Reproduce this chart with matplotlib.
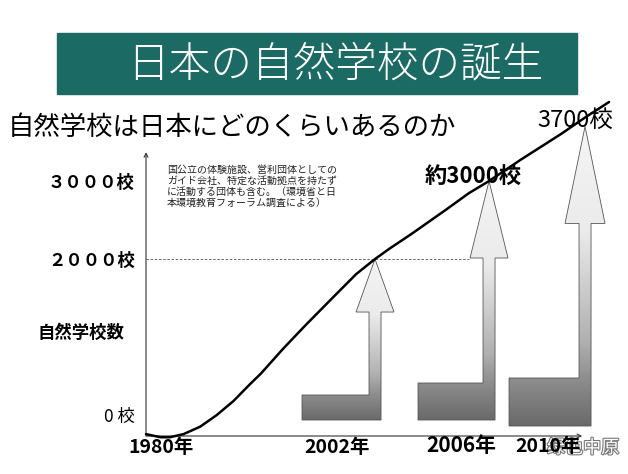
"""Slide: 日本の自然学校の誕生 (schematic growth curve of nature schools)."""

import matplotlib
matplotlib.use("Agg")
import matplotlib.pyplot as plt
import matplotlib.patheffects as pe
import numpy as np
from matplotlib.colors import LinearSegmentedColormap
from matplotlib.patches import Polygon, Rectangle

plt.rcParams["font.family"] = ["Noto Sans CJK JP", "DejaVu Sans"]

# ---- data ----
title = "日本の自然学校の誕生"
subtitle = "自然学校は日本にどのくらいあるのか"
note_lines = [
    "国公立の体験施設、営利団体としての",
    "ガイド会社、特定な活動拠点を持たず",
    "に活動する団体も含む。（環境省と日",
    "本環境教育フォーラム調査による）",
]
curve_year = [1980, 1981.4, 1982.3, 1983.6, 1985.2, 1986.8, 1988.4, 1990, 1991,
              1993.2, 1995.4, 1998, 2000.2, 2002, 2002.5, 2003.3, 2004.5,
              2005.3, 2006, 2007.3, 2009, 2010, 2011]
curve_count = [-245, -285, -285, -245, -150, 0, 179, 397, 526, 854, 1162, 1513,
               1808, 2000, 2131, 2327, 2635, 2846, 3000, 3269, 3603, 3814, 4013]
arrow_years = [2002, 2006, 2010]
arrow_counts = [2000, 3000, 3700]
year_ticks = [1980, 2002, 2006, 2010]
year_labels = ["1980年", "2002年", "2006年", "2010年"]
y_ticks = [0, 2000, 3000]
y_tick_labels = ["0 校", "２０００校", "３０００校"]
callout_3000 = "約3000校"
callout_3700 = "3700校"
y_title = "自然学校数"
watermark = "绿色中原"

# ---- figure / overlay in slide pixels ----
W, H = 628, 474
fig = plt.figure(figsize=(W / 100, H / 100), dpi=100)
ov = fig.add_axes([0, 0, 1, 1])
ov.set_xlim(0, W)
ov.set_ylim(H, 0)
ov.axis("off")

# title banner
ov.add_patch(Rectangle((57, 33), 520, 61, color="#1b6a64", zorder=1))
ov.text(127, 65, title, color="white", fontsize=30, fontweight="light",
        va="center", ha="left", zorder=2)
ov.text(8, 127, subtitle, color="black", fontsize=19, va="center", ha="left")

# ---- main chart axes (schematic, non-linear year axis) ----
anchor_year = [1900, 1980, 2002, 2006, 2010, 2100]
anchor_pos = [146 - 80 * 10.41, 146, 375, 489, 585, 585 + 90 * 24]


def fwd(x):
    return np.interp(x, anchor_year, anchor_pos)


def inv(p):
    return np.interp(p, anchor_pos, anchor_year)


ax = fig.add_axes([146 / W, 38 / H, 482 / W, 436 / H])
ax.patch.set_alpha(0)
ax.set_xscale("function", functions=(fwd, inv))
ax.set_xlim(1980, 2011.79)
ax.set_ylim(-269, 5321)
for s in ax.spines.values():
    s.set_visible(False)
ax.set_xticks([])
ax.set_yticks(y_ticks)
ax.set_yticklabels(y_tick_labels)
ax.tick_params(axis="y", length=0, pad=8, labelsize=12.5)
for lab in ax.get_yticklabels():
    lab.set_fontweight("normal" if lab.get_text().startswith("0") else "bold")

# axis lines with small arrow heads
ax.annotate("", xy=(0, 0.651), xytext=(0, 0), xycoords="axes fraction",
            arrowprops=dict(arrowstyle="->", lw=0.8, color="#333333",
                            shrinkA=0, shrinkB=0, mutation_scale=7))
ax.annotate("", xy=(0.905, 0), xytext=(0, 0), xycoords="axes fraction",
            arrowprops=dict(arrowstyle="->", lw=0.8, color="#333333",
                            shrinkA=0, shrinkB=0, mutation_scale=7))

ax.hlines(2000, 1980, 2005.3, colors="#555555", linestyles=(0, (3, 2)), lw=0.6)
ax.plot(curve_year, curve_count, color="black", lw=1.8, clip_on=False,
        solid_capstyle="round", solid_joinstyle="round", zorder=5)

ax.text(-0.135, 0.236, y_title, transform=ax.transAxes, fontsize=12.5,
        fontweight="bold", ha="center", va="center")

label_off = [(11.2, -8.6, 14), (-27.7, -8.6, 14), (-20.2, -6.5, 15), (-26.6, -7.9, 14)]
for yr, lab, (dx, dy, fs) in zip(year_ticks, year_labels, label_off):
    ax.annotate(lab, xy=(yr, 0), xycoords=("data", "axes fraction"),
                xytext=(dx, dy), textcoords="offset points", ha="center",
                va="center", fontsize=fs, fontweight="bold", annotation_clip=False)

# ---- gradient block arrows ----
cmap = LinearSegmentedColormap.from_list(
    "arr", [(0, "#f4f4f4"), (0.35, "#ebebeb"), (0.72, "#b0b0b0"),
            (0.85, "#8c8c8c"), (1, "#6a6a6a")])
grad = np.linspace(0, 1, 256).reshape(-1, 1)
head_half = [19, 19, 20]
head_len = [53, 77, 97]
base_left_off = [-73, -71, -76]
base_top = [395, 383, 378]
base_bottom = [420, 420, 426]
sw = 6

for i, (yr, cnt) in enumerate(zip(arrow_years, arrow_counts)):
    tx, ty = ov.transData.inverted().transform(ax.transData.transform((yr, cnt)))
    hb = ty + head_len[i]
    hw = head_half[i]
    bl = tx + base_left_off[i]
    bb, bt = base_bottom[i], base_top[i]
    verts = [(tx, ty), (tx + hw, hb), (tx + sw, hb), (tx + sw, bb), (bl, bb),
             (bl, bt), (tx - sw, bt), (tx - sw, hb), (tx - hw, hb)]
    poly = Polygon(verts, closed=True, facecolor="none", edgecolor="#555555",
                   lw=0.6, zorder=3)
    ov.add_patch(poly)
    im = ov.imshow(grad, cmap=cmap, aspect="auto", origin="upper",
                   extent=(bl, tx + hw, bb, ty), zorder=2)
    im.set_clip_path(poly)

ov.set_xlim(0, W)
ov.set_ylim(H, 0)

# callouts and notes
ov.text(425, 176, callout_3000, fontsize=16, fontweight="bold", va="center", ha="left")
ov.text(537, 120, callout_3700, fontsize=17, va="center", ha="left")
for k, line in enumerate(note_lines):
    ov.text(167, 170 + 11 * k, line, fontsize=7.2, va="center", ha="left",
            color="#222222")

ov.text(547, 448, watermark, fontsize=13, color="white", va="center", ha="left",
        zorder=6, path_effects=[pe.withStroke(linewidth=1.6, foreground="#777777")])

fig.savefig("out.png", dpi=100)
